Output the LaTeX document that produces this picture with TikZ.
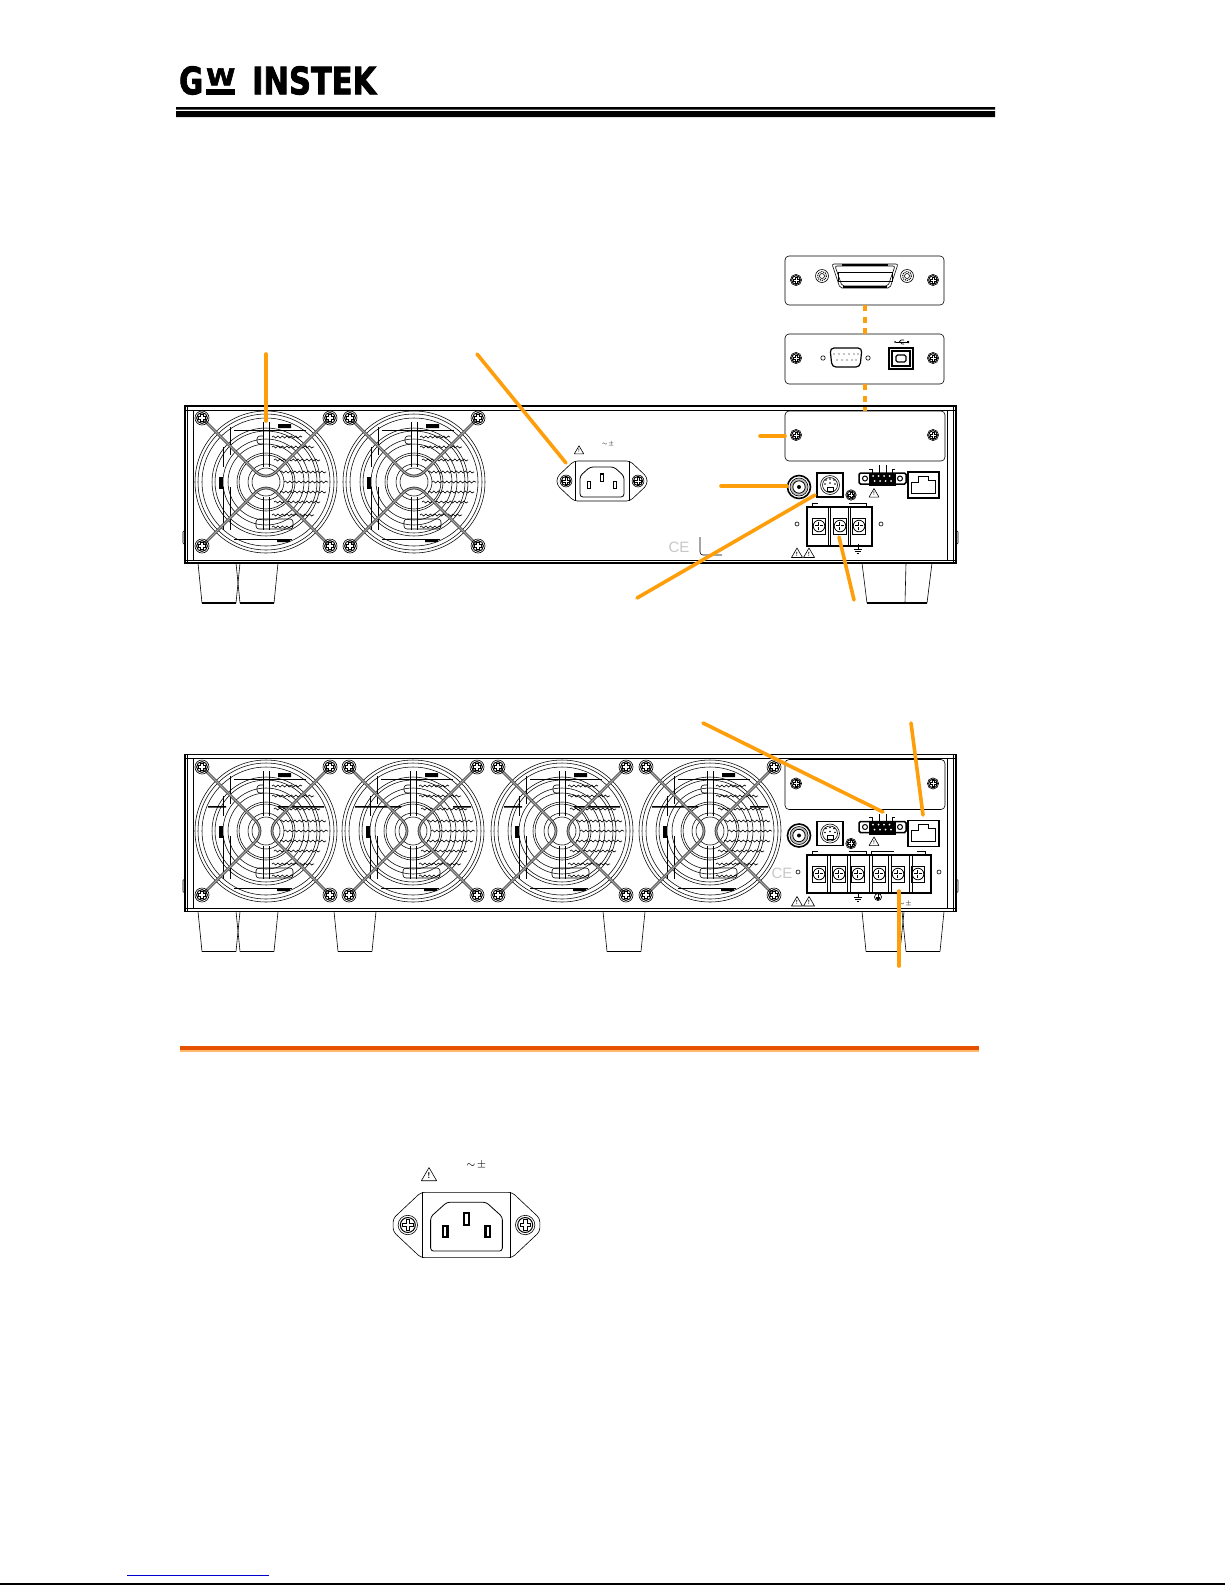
\documentclass[tikz,border=0pt]{standalone}
\usepackage{fontspec}
\usepackage{graphicx}
\newfontfamily\logofont{DejaVu Sans}[FakeBold=2.5]
\newfontfamily\cefont{Liberation Sans}
\usetikzlibrary{decorations.pathmorphing}
\definecolor{leadorange}{HTML}{FF9E0B}
\definecolor{ruledark}{HTML}{E65100}
\definecolor{rulelight}{HTML}{FFB870}
\tikzset{
  leader/.style={draw=leadorange,line width=3.6pt,line cap=round},
  leaderdash/.style={draw=leadorange,line width=3.6pt,dash pattern=on 6pt off 5.5pt},
  fine/.style={line width=.6pt},
  outline/.style={line width=1.5pt},
  wave/.style={line width=.6pt,decorate,decoration={snake,amplitude=1pt,segment length=4.5pt}},
  screwhead/.pic={
    \draw[line width=.6pt] (0,0) circle (7);
    \draw[line width=1pt] (0,0) circle (5.4);
    \draw[line width=.8pt,fill=white] (-1.3,-3.8) -- (1.3,-3.8) -- (1.3,-1.3) -- (3.8,-1.3) -- (3.8,1.3) -- (1.3,1.3) -- (1.3,3.8) -- (-1.3,3.8) -- (-1.3,1.3) -- (-3.8,1.3) -- (-3.8,-1.3) -- (-1.3,-1.3) -- cycle;},
  warnmark/.pic={
    \draw[line width=.6pt,line join=round] (-5.5,4.5) -- (5.5,4.5) -- (0,-5) -- cycle;
    \node[inner sep=0pt,font=\fontsize{6}{6}\selectfont\bfseries,transform shape] (bang) at (0,1) {!};},
  earthmark/.pic={
    \draw[line width=.7pt] (0,-5) -- (0,0) (-4,0) -- (4,0) (-2.6,2) -- (2.6,2) (-1.2,4) -- (1.2,4);},
  % one fan with its grille, wire bars come from the two pics below
  fangrille/.pic={
    \foreach \r in {71,68,64,54,51,43,38,29,27,18,14}
      \draw[line width=.55pt] (0,0) circle (\r);
    \draw[line width=.6pt] (-3,-60) -- (-3,-15) (3,-60) -- (3,-15) (-3,15) -- (-3,48) (3,15) -- (3,48);
    \draw[line width=.6pt] (-32,-52) -- (40,-52) (-32,57) -- (26,57);
    \draw[line width=.6pt] (-43,-35) -- (-43,-15) (-36,-55) -- (-36,-27) (-43,5) -- (-43,48) (-36,5) -- (-36,48);
    \draw[line width=.6pt,rounded corners=3pt] (-3,-46) -- (-9,-46) -- (-9,-38) -- (-3,-38);
    \draw[line width=.6pt,rounded corners=3pt] (-10,37) -- (-10,47) -- (27,47) -- (27,37) -- cycle;
    \fill (12,-58) rectangle (25,-54) (11,57) rectangle (24,60);
    \fill (-47,-5) rectangle (-43,7);
    \foreach \yy/\xa/\xb in {-45/6/36,-35/6/48,-22/8/54,-10/14/60,0/18/62,10/14/60,20/8/54,33/6/48,45/6/27}
      \draw[wave] (\xa,\yy) -- (\xb,\yy);},
  fanbars/.style={line width=.8pt,draw=black!80,double=black!35,double distance=1.1pt},
  fanv/.pic={
    \pic {fangrille};
    \draw[fanbars] (-62,-62) -- (-12,-12) .. controls (-5,-4) and (5,-4) .. (12,-12) -- (62,-62);
    \draw[fanbars] (-62,62) -- (-12,12) .. controls (-5,4) and (5,4) .. (12,12) -- (62,62);
    \foreach \sx/\sy in {-64/-64,64/-64,-64/64,64/64}
      \pic at (\sx,\sy) {screwhead};},
  fanh/.pic={
    \pic {fangrille};
    \fill (-58,-25) rectangle (-40,-23.5) (12,-25) rectangle (58,-23.5);
    \draw[fanbars] (-62,-62) -- (-12,-12) .. controls (-4,-5) and (-4,5) .. (-12,12) -- (-62,62);
    \draw[fanbars] (62,-62) -- (12,-12) .. controls (4,-5) and (4,5) .. (12,12) -- (62,62);
    \foreach \sx/\sy in {-64/-64,64/-64,-64/64,64/64}
      \pic at (\sx,\sy) {screwhead};},
  % chassis outline and everything that both units share, at the position of the upper unit
  chassis/.pic={
    \draw[outline] (185,406) rectangle (956,563);
    \draw[line width=.9pt] (185,410) -- (956,410) (185,560) -- (956,560);
    \draw[fine] (187.5,406) -- (187.5,563) (193,410) -- (193,560) (947,410) -- (947,560) (953.5,406) -- (953.5,563);
    \draw[fine] (185,530) -- (183,532) -- (183,543) -- (185,545) (956,530) -- (958,532) -- (958,543) -- (956,545);},
  ioset/.pic={
    \draw[fine,rounded corners=4pt] (785,411) rectangle (945,461);
    \pic[scale=.8] at (796,435) {screwhead};
    \pic[scale=.8] at (933,435) {screwhead};
    % bnc
    \draw[line width=1.6pt] (799,487) circle (11.5);
    \draw[line width=.6pt,fill=black!25] (799,487) circle (9);
    \draw[line width=.8pt,fill=white] (799,487) circle (6.2);
    \fill (799,487) circle (2);
    % ps2 socket
    \draw[outline] (817,473) rectangle (843,497);
    \draw[fine] (830,485) circle (9.5) (830,485) circle (7.5);
    \draw[line width=.9pt] (827,487) rectangle (833,491);
    \foreach \dx/\dy in {826/480,830/479,834/480,825/484,835/484,830/483}
      \fill (\dx,\dy) circle (.8);
    \pic[scale=.75] at (851,495) {screwhead};
    % remote connector
    \draw[outline,rounded corners=1.5pt] (859,473) rectangle (906,484);
    \fill (869,473) rectangle (896,486);
    \foreach \dx in {873,878.5,884,889.5}
      \fill[white] (\dx,476) circle (1) (\dx+1.5,481) circle (1);
    \foreach \dx in {865,900}
      \draw[line width=1pt] (\dx,478.5) circle (2.5);
    \draw[line width=.7pt] (872,473) -- (872,469) -- (869,469) (879,473) -- (879,465) (886,473) -- (886,465) (892,473) -- (892,469) -- (895,469);
    \pic[scale=.9] at (874,493) {warnmark};
    % lan
    \draw[outline] (908,472) rectangle (939,498);
    \draw[line width=.8pt] (911,482) -- (911,493) -- (935,493) -- (935,480) -- (928,480) -- (928,476) -- (918,476) -- (918,482) -- cycle;
    \pic at (797,553) {warnmark};
    \pic at (809,553) {warnmark};},
  termcell/.pic={
    \draw[line width=.8pt] (-6.5,-9) rectangle (6.5,7);
    \draw[line width=.8pt] (0,-1) circle (5.8);
    \draw[line width=2pt] (-4,-1) -- (4,-1) (0,-5) -- (0,3);
    \draw[white,line width=.7pt] (-4,-1) -- (4,-1) (0,-5) -- (0,3);},
  % ac inlet, drawn around the middle of its body
  acinlet/.pic={
    \draw[fine,rounded corners=3.5pt] (-28,-20) -- (28,-20) -- (45,-4) -- (45,4) -- (28,20) -- (-28,20) -- (-45,4) -- (-45,-4) -- cycle;
    \draw[fine] (-27,-20) -- (-27,20) (27,-20) -- (27,20);
    \draw[line width=.8pt,rounded corners=3pt] (-12,-14) -- (12,-14) -- (22,-5) -- (22,16) -- (-22,16) -- (-22,-5) -- cycle;
    \foreach \px/\py in {-13/4,0/-3.5,13/4} {
      \fill (\px-2.2,\py-4.2) rectangle (\px+2.2,\py+4.2);
      \fill[white] (\px-.7,\py-3) rectangle (\px+.7,\py+3);}
    \pic[transform shape,scale=.85] at (-36,0) {screwhead};
    \pic[transform shape,scale=.85] at (36,0) {screwhead};
    \pic[transform shape,scale=.85] at (-23,-31) {warnmark};
    \node[inner sep=0pt,font=\fontsize{6.5}{6.5}\selectfont,transform shape] (acmark) at (6,-37) {$\sim\!\pm$};},
  footpad/.pic={
    \draw[fine] (0,0) -- (4,40);
    \draw[line width=1.2pt] (4,40) -- (38,40);
    \draw[fine] (38,40) -- (42,0);}}

\begin{document}
\begin{tikzpicture}[x=1pt,y=-1pt]
  \useasboundingbox (0,0) rectangle (1225,1585);

  % header
  \node[anchor=south west,inner sep=0pt] (logog) at (179,95) {\resizebox{24pt}{28pt}{\logofont\bfseries G}};
  \node[anchor=south west,inner sep=0pt] (logow) at (206,85.5) {\resizebox{29pt}{17pt}{\logofont\bfseries W}};
  \node[anchor=south west,inner sep=0pt] (logoname) at (252,95) {\resizebox{124pt}{28pt}{\logofont\bfseries INSTEK}};
  \fill (206,89) rectangle (235,95);
  \fill (176,107) rectangle (995,109.5) (176,111) rectangle (995,117);

  % upper unit
  \pic {chassis};
  \pic at (266,482) {fanv};
  \pic[xscale=-1] at (414,482) {fanv};
  \pic {ioset};
  \pic at (198,563) {footpad};
  \pic at (236,563) {footpad};
  \draw[fine] (862,563) -- (867,603) (905,603) -- (906,563) (927,603) -- (932,563);
  \draw[line width=1.2pt] (867,603) -- (927,603);
  \pic at (602,481) {acinlet};
  \node[inner sep=0pt,text=black!22,font=\cefont\fontsize{15}{15}\selectfont] (cemark) at (679,547) {CE};
  \draw[fine,rounded corners=3pt] (700,537) -- (700,555) -- (722,555);
  % terminals of the upper unit
  \draw[line width=2pt] (807,507) rectangle (872,546);
  \draw[line width=.8pt] (828,507) -- (828,546) (830.5,507) -- (830.5,546) (848,507) -- (848,546) (850.5,507) -- (850.5,546);
  \foreach \tx in {819,840,859}
    \pic at (\tx,527) {termcell};
  \draw[fine] (797,524) circle (2) (881,524) circle (2);
  \draw[fine] (812,507) -- (812,503) -- (818,503) (849,503) -- (866,503) -- (866,507);
  \pic at (858,549) {earthmark};

  % option plates
  \draw[fine,rounded corners=4pt] (785,256) rectangle (944,305);
  \pic[scale=.8] at (796,280) {screwhead};
  \pic[scale=.8] at (933,280) {screwhead};
  \draw[fine,rounded corners=2pt] (832,264) -- (898,264) -- (890,288) -- (840,288) -- cycle;
  \draw[fine,rounded corners=2pt] (835,266) -- (895,266) -- (888,286) -- (842,286) -- cycle;
  \draw[line width=1pt] (838,272) rectangle (892,281);
  \draw[line width=1.4pt] (842,265) -- (888,265) (843,287) -- (887,287);
  \foreach \gx in {822,907} {
    \draw[fine] (\gx,276) circle (6.5);
    \draw[line width=1pt,densely dotted] (\gx,276) circle (4.5);
    \draw[fine] (\gx,276) circle (2.5);}
  \draw[fine,rounded corners=4pt] (785,334) rectangle (944,384);
  \pic[scale=.8] at (796,358) {screwhead};
  \pic[scale=.8] at (933,358) {screwhead};
  \draw[line width=1.2pt,rounded corners=4pt] (830,348) -- (862,348) -- (860,367) -- (832,367) -- cycle;
  \foreach \dx in {834,839,844,849,854,858}
    \fill (\dx,354) circle (.6);
  \foreach \dx in {837,842,847,852,856}
    \fill (\dx,360) circle (.6);
  \draw[fine] (823,358) circle (2.2) (868,358) circle (2.2);
  \draw[line width=1.6pt] (889,348) rectangle (913,369);
  \draw[line width=1.2pt] (892,351) rectangle (910,366);
  \draw[line width=1.2pt,rounded corners=1.5pt] (896,355) rectangle (906,362);
  \draw[line width=.7pt] (896,342) -- (907,342);
  \draw[line width=.7pt] (899,342) -- (901,340) -- (904,340) (900,342) -- (902,344) -- (904,344);
  \fill (895,342) circle (1) (907,341) rectangle (909,343);

  % lower unit
  \begin{scope}[yshift=-348.5pt]
    \pic {chassis};
    \pic {ioset};
    \pic at (198,563) {footpad};
    \pic at (236,563) {footpad};
    \pic at (334,563) {footpad};
    \pic at (603,563) {footpad};
    \pic at (862,563) {footpad};
    \pic at (902,563) {footpad};
  \end{scope}
  \pic at (266,831) {fanh};
  \pic[xscale=-1] at (413,831) {fanh};
  \pic at (562,831) {fanh};
  \pic[xscale=-1] at (710,831) {fanh};
  \node[inner sep=0pt,text=black!22,font=\cefont\fontsize{15}{15}\selectfont] (cemarkb) at (782,873) {CE};
  % terminals of the lower unit
  \draw[line width=2pt] (807,855) rectangle (931,893);
  \foreach \dv in {829,849,871,890,911}
    \draw[line width=.8pt] (\dv-1.2,855) -- (\dv-1.2,893) (\dv+1.2,855) -- (\dv+1.2,893);
  \foreach \tx in {819,839,858,879,898,918}
    \pic at (\tx,875) {termcell};
  \draw[fine] (798,872) circle (2) (939,872) circle (2);
  \draw[fine] (812,855) -- (812,851) -- (818,851) (849,851) -- (866,851) -- (866,855) (871,855) -- (871,851) -- (894,851) (917,851) -- (925,851) -- (925,855);
  \pic at (858,897) {earthmark};
  \draw[line width=.7pt] (878,897) circle (3.5);
  \pic[scale=.6] at (878,897) {earthmark};
  \node[inner sep=0pt,font=\fontsize{7}{7}\selectfont] (pmmark) at (905,904) {$\sim\!\pm$};

  % callouts
  \coordinate (fanhead) at (266,354);
  \coordinate (fantail) at (266,421);
  \coordinate (inlethead) at (477,354);
  \coordinate (inlettail) at (566,463);
  \coordinate (slothead) at (760,436);
  \coordinate (slottail) at (785,436);
  \coordinate (bnchead) at (721,486);
  \coordinate (bnctail) at (787,486);
  \coordinate (ps2head) at (637,598);
  \coordinate (ps2tail) at (815,495);
  \coordinate (termhead) at (854,600);
  \coordinate (termtail) at (839,537);
  \coordinate (remotehead) at (703,723);
  \coordinate (remotetail) at (883,812);
  \coordinate (lanhead) at (911,723);
  \coordinate (lantail) at (923,815);
  \coordinate (bighead) at (899,966);
  \coordinate (bigtail) at (899,891);
  \coordinate (plateb) at (865,334);
  \coordinate (platea) at (865,305);
  \coordinate (platec) at (865,384);
  \coordinate (plated) at (865,411);
  \draw[leader] (fanhead) -- (fantail);
  \draw[leader] (inlethead) -- (inlettail);
  \draw[leader] (slothead) -- (slottail);
  \draw[leader] (bnchead) -- (bnctail);
  \draw[leader] (ps2head) -- (ps2tail);
  \draw[leader] (termhead) -- (termtail);
  \draw[leader] (remotehead) -- (remotetail);
  \draw[leader] (lanhead) -- (lantail);
  \draw[leader] (bighead) -- (bigtail);
  \draw[leaderdash] (platea) -- (plateb);
  \draw[leaderdash] (platec) -- (plated);

  % section rule and the large inlet
  \fill[ruledark] (180,1046) rectangle (979,1049.5);
  \fill[rulelight] (180,1049.5) rectangle (979,1052);
  \pic[scale=1.63] at (466.5,1225) {acinlet};

  % footer
  \draw[blue!80!black,line width=1pt] (127,1575) -- (269,1575);
  \draw[line width=1.5pt] (0,1584) -- (1225,1584);
\end{tikzpicture}
\end{document}
